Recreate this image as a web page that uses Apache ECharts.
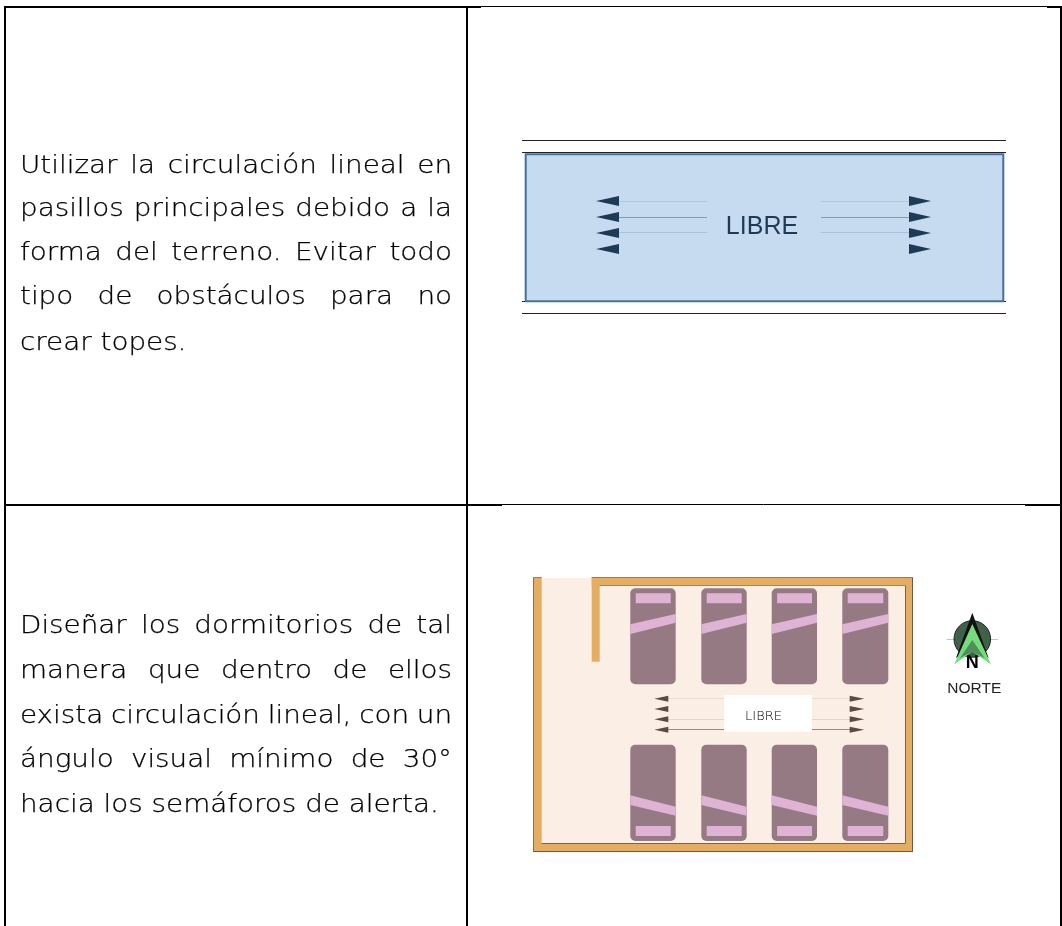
<!DOCTYPE html>
<html>
<head>
<meta charset="utf-8">
<style>
html, body { margin: 0; padding: 0; background: #fff; }
#main { width: 1062px; height: 926px; }
</style>
<script src="https://cdn.jsdelivr.net/npm/echarts@6/dist/echarts.min.js"></script>
</head>
<body>
<div id="main"></div>
<script>
// table rules: x1, y1, x2, y2
const heavyRules = [[4, 7, 481, 7], [4, 505, 502, 505], [1047, 7, 1062, 7], [1025, 505, 1062, 505], [5, 6, 5, 926], [467, 6, 467, 926], [1061, 6, 1061, 926]];
const thinRules = [[481, 6.5, 1047, 6.5], [502, 504.5, 1025, 504.5]];

// cell text
const cellOne = ['Utilizar la circulación lineal en', 'pasillos principales debido a la', 'forma del terreno. Evitar todo', 'tipo de obstáculos para no', 'crear topes.'];
const cellOneY = [167, 210, 254, 298, 344];
const cellTwo = ['Diseñar los dormitorios de tal', 'manera que dentro de ellos', 'exista circulación lineal, con un', 'ángulo visual mínimo de 30°', 'hacia los semáforos de alerta.'];
const cellTwoY = [627, 672, 717, 761, 806];

// corridor diagram
const corridorRules = [[522, 140.5, 1006, 140.5], [522, 152.5, 1006, 152.5], [522, 301.5, 1006, 301.5], [522, 313.5, 1006, 313.5]];
const corridorBox = [[525.7, 154.3, 1003.3, 301.3]];
const corridorArrowY = [201, 217, 233, 249];
const corridorGuides = [[619, 201.5, 707, 201.5, 0.12], [619, 217.5, 707, 217.5, 0.4], [619, 232.5, 707, 232.5, 0.15],
  [821, 201.5, 909, 201.5, 0.12], [821, 217.5, 909, 217.5, 0.4], [821, 232.5, 909, 232.5, 0.15]];

// dormitory diagram
const floorArea = [[534, 578, 912, 850]];
const wallPieces = [[533.3, 577.7, 541.7, 851.7], [591.7, 577.7, 912.7, 585.7], [591.7, 577.7, 599.7, 661.7],
  [905, 577.7, 912.7, 851.7], [533.3, 843.3, 912.7, 851.7]];
const wallEdges = [[591.7, 577.5, 912.7, 577.5, 0.7], [912.5, 577.5, 912.5, 851.7, 0.9], [533.3, 851.5, 912.7, 851.5, 0.9],
  [541.7, 843.5, 905, 843.5, 0.8], [905.5, 585.7, 905.5, 843.5, 0.8], [599.7, 585.5, 905, 585.5, 0.5], [533.5, 577.7, 533.5, 851.7, 0.7], [533.3, 577.5, 541.7, 577.5, 0.7]];
const bedLeft = [630.3, 701.3, 771.7, 842.3];
const bedRight = [675.7, 746.7, 817, 888.3];
const topBedY = [588.3, 684.3];
const bottomBedY = [744.7, 841];
const topPillowY = [593.3, 603.3];
const bottomPillowY = [826, 836];
const topSashY = [624.3, 634, 614, 622.7];
const bottomSashY = [795.3, 805, 806.7, 815.7];
const freeBox = [[724, 695, 812, 731.7]];
const dormArrowY = [698.7, 709, 719.3, 729.7];
const dormGuides = [[668, 698.5, 724, 698.5, 0.1], [668, 719.5, 724, 719.5, 0.15], [668, 729.5, 724, 729.5, 0.6],
  [812, 698.5, 850, 698.5, 0.1], [812, 719.5, 850, 719.5, 0.15], [812, 729.5, 850, 729.5, 0.6]];

// north mark
const compassCenter = [[972.3, 639, 18.3]];
const compassCross = [[946.7, 639.5, 998, 639.5]];
const compassDark = [[972.3, 612.7, 956, 658, 972.3, 647, 988.6, 658]];
const compassLight = [[972.3, 624, 954.3, 664.3, 972.3, 651.7, 991, 664.3]];
const compassInner = [[972.3, 640, 960, 658, 972.3, 651.7, 984.6, 658]];

const labels = [
  [762, 227, 'LIBRE', 25, '#1f3a56', 'Liberation Sans', 'normal'],
  [763.5, 717, 'LIBRE', 13, '#000', 'DejaVu Sans', '200'],
  [972.3, 663, 'N', 18, '#000', 'Liberation Sans', 'bold'],
  [974.3, 688.5, 'NORTE', 15.5, '#222', 'Liberation Sans', 'normal']
];

function arrowRows(ys, base, tip, half) {
  return ys.map(y => [tip, y, base, y - half, base, y + half]);
}

const bedBoxes = [];
const pillows = [];
const sashes = [];
bedLeft.forEach((l, i) => {
  const r = bedRight[i];
  bedBoxes.push([l, topBedY[0], r, topBedY[1]], [l, bottomBedY[0], r, bottomBedY[1]]);
  pillows.push([l + 5.4, topPillowY[0], r - 5, topPillowY[1]], [l + 5.4, bottomPillowY[0], r - 5, bottomPillowY[1]]);
  sashes.push([l, topSashY[0], l, topSashY[1], r, topSashY[3], r, topSashY[2]]);
  sashes.push([l, bottomSashY[0], l, bottomSashY[1], r, bottomSashY[3], r, bottomSashY[2]]);
});

function boxes(rows, style, radius) {
  return {
    type: 'custom', data: rows, silent: true, clip: false,
    renderItem(p, api) {
      const a = api.coord([api.value(0), api.value(1)]);
      const b = api.coord([api.value(2), api.value(3)]);
      return { type: 'rect', shape: { x: a[0], y: a[1], width: b[0] - a[0], height: b[1] - a[1], r: radius || 0 }, style };
    }
  };
}

function rules(rows, color, width) {
  return {
    type: 'custom', data: rows, silent: true, clip: false,
    renderItem(p, api) {
      const a = api.coord([api.value(0), api.value(1)]);
      const b = api.coord([api.value(2), api.value(3)]);
      const o = rows[p.dataIndex][4];
      return { type: 'line', shape: { x1: a[0], y1: a[1], x2: b[0], y2: b[1] }, style: { stroke: color, lineWidth: width, opacity: o === undefined ? 1 : o } };
    }
  };
}

function polygons(rows, fill) {
  return {
    type: 'custom', data: rows, silent: true, clip: false,
    renderItem(p, api) {
      const row = rows[p.dataIndex];
      const points = [];
      for (let i = 0; i < row.length; i += 2) points.push(api.coord([row[i], row[i + 1]]));
      return { type: 'polygon', shape: { points }, style: { fill } };
    }
  };
}

// justified paragraph, words spread between the cell margins, last line left as it is
const measure = document.createElement('canvas').getContext('2d');
const bodyFont = '200 24px "DejaVu Sans"';
const bodyStretch = 1.158;
function paragraph(lines, ys, left, right) {
  return {
    type: 'custom', data: lines.map((t, i) => [left, ys[i]]), silent: true, clip: false,
    renderItem(p, api) {
      const i = p.dataIndex;
      const words = lines[i].split(' ');
      measure.font = bodyFont;
      const widths = words.map(w => measure.measureText(w).width * bodyStretch);
      const used = widths.reduce((a, b) => a + b, 0);
      const a = api.coord([api.value(0), api.value(1)]);
      const b = api.coord([right, api.value(1)]);
      const spare = b[0] - a[0] - used;
      const gap = i === lines.length - 1 ? measure.measureText(' ').width * bodyStretch : spare / (words.length - 1);
      let x = a[0];
      const children = words.map((w, k) => {
        const el = { type: 'text', x, y: a[1], scaleX: bodyStretch, style: { text: w, font: bodyFont, fill: '#000', stroke: '#000', lineWidth: 0.25, verticalAlign: 'middle' } };
        x += widths[k] + gap;
        return el;
      });
      return { type: 'group', children };
    }
  };
}

const textLabels = {
  type: 'custom', data: labels.map(l => [l[0], l[1]]), silent: true, clip: false,
  renderItem(p, api) {
    const l = labels[p.dataIndex];
    const a = api.coord([api.value(0), api.value(1)]);
    return { type: 'text', style: { x: a[0], y: a[1], text: l[2], fontSize: l[3], fill: l[4], fontFamily: l[5], fontWeight: l[6], align: 'center', verticalAlign: 'middle' } };
  }
};

const compassDisc = {
  type: 'custom', data: compassCenter, silent: true, clip: false,
  renderItem(p, api) {
    const c = api.coord([api.value(0), api.value(1)]);
    return { type: 'circle', shape: { cx: c[0], cy: c[1], r: api.value(2) }, style: { fill: '#41604a', stroke: '#1d2a20', lineWidth: 1 } };
  }
};

const chart = echarts.init(document.getElementById('main'), null, { renderer: 'canvas' });
chart.setOption({
  animation: false,
  backgroundColor: '#fff',
  grid: { left: 0, right: 0, top: 0, bottom: 0 },
  xAxis: { type: 'value', min: 0, max: 1062, show: false },
  yAxis: { type: 'value', min: 0, max: 926, inverse: true, show: false },
  series: [
    rules(heavyRules, '#000', 2),
    rules(thinRules, '#000', 1),
    paragraph(cellOne, cellOneY, 20, 452),
    paragraph(cellTwo, cellTwoY, 20, 452),
    rules(corridorRules, '#222', 1),
    boxes(corridorBox, { fill: '#c6daf0', stroke: '#41719c', lineWidth: 2 }),
    rules(corridorGuides, '#1f3a56', 1),
    polygons(arrowRows(corridorArrowY, 619, 596, 5), '#1f3a56'),
    polygons(arrowRows(corridorArrowY, 909, 931, 5), '#1f3a56'),
    boxes(floorArea, { fill: '#fbeee4' }),
    boxes(wallPieces, { fill: '#e4ad62' }),
    rules(wallEdges, '#5f4f40', 1),
    boxes(bedBoxes, { fill: '#967a83' }, 5),
    boxes(pillows, { fill: '#deb3d4' }),
    polygons(sashes, '#deb3d4'),
    boxes(freeBox, { fill: '#fff' }),
    rules(dormGuides, '#5b4a44', 1),
    polygons(arrowRows(dormArrowY, 668.3, 654.3, 3), '#5b4a44'),
    polygons(arrowRows(dormArrowY, 849.7, 864.3, 3), '#5b4a44'),
    rules(compassCross, '#c4c4c4', 1),
    compassDisc,
    polygons(compassDark, '#111'),
    polygons(compassLight, '#74dc7c'),
    polygons(compassInner, '#4f8f5c'),
    textLabels
  ]
});
</script>
</body>
</html>
